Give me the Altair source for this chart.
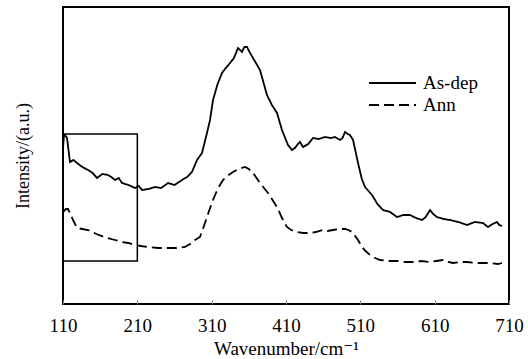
import altair as alt
import pandas as pd

# Wavenumber (cm^-1) and relative intensity
asdep_x = [110, 111.3, 112.7, 115.4, 119.4, 124, 128.8, 136, 143.6, 150, 155.7, 163, 170.5, 175, 180, 185, 189.4,
           198, 206.9, 212, 216.3, 225, 233.8, 242, 251.3, 260, 270.1, 277, 283.5, 290.3, 297, 303.7, 307.8,
           311.8, 318, 323.9, 329, 334.7, 340, 345.4, 350.8, 354, 357.5, 361, 365.6, 375, 384.4, 391, 397.9,
           404.6, 412.7, 418, 422.1, 426, 428.8, 432.9, 440, 446.3, 454, 462.5, 470, 476, 482.7, 486, 489.4,
           493, 496.1, 500.2, 506.9, 512, 516.3, 521, 525.7, 533, 540.5, 550, 559.3, 568, 576.8, 585, 593,
           598, 603.7, 608, 613.1, 622, 630.6, 642, 653.5, 664, 675, 681.7, 688, 693.9, 697, 700.6]
asdep_y = [156, 168, 169, 166, 142, 144, 141, 137, 134, 131, 126, 130, 129, 127, 124, 126, 121,
           119, 116, 118, 114, 115, 117, 116, 121, 119, 124, 127, 132, 144, 151, 171, 184,
           204, 220, 231, 236, 241, 246, 256, 252, 257, 257, 252, 246, 234, 209, 199, 191,
           174, 159, 154, 156, 160, 162, 157, 160, 166, 165, 167, 166, 167, 164, 166, 172,
           170, 169, 164, 141, 125, 117, 113, 109, 100, 94, 92, 87, 89, 89, 86, 84,
           87, 94, 90, 87, 85, 84, 82, 79, 82, 81, 77, 80, 82, 79, 78]

ann_x = [110, 114, 116.7, 120, 123.5, 128.8, 136, 143.6, 155, 169.2, 180, 189.4, 198, 206.9, 215, 224.4,
         238, 251.3, 263, 274.1, 281, 287.6, 294.3, 301, 306, 311.8, 318, 325.2, 331, 338.7, 346, 354.8,
         360, 365.6, 375, 385.8, 397.9, 404, 411.3, 417, 424.8, 433, 442.3, 450, 459.8, 466, 473.2, 481,
         489.4, 494, 498.8, 502, 506.9, 512.2, 517, 523, 530, 536.5, 548, 559.3, 570, 580.8, 592, 603.7,
         612, 621.2, 628, 634.7, 644, 653.5, 664, 675, 685, 695.2, 700.6]
ann_y = [92, 95, 95, 90, 84, 76, 75, 74, 70, 66, 64, 62, 61, 59, 58, 57,
         56, 56, 56, 57, 60, 64, 67, 81, 92, 104, 115, 124, 128, 132, 135, 137,
         135, 131, 121, 111, 97, 87, 77, 74, 72, 71, 71, 72, 74, 73, 74, 75,
         75, 74, 72, 69, 64, 57, 53, 49, 46, 44, 43, 43, 42, 42, 43, 42,
         43, 44, 42, 41, 42, 42, 41, 41, 41, 40, 41]

series_names = ["As-dep", "Ann"]
box_x = [110, 210]
box_y = [43, 170]
x_ticks = [110, 210, 310, 410, 510, 610, 710]

df = pd.concat([
    pd.DataFrame({"wn": asdep_x, "I": asdep_y, "series": series_names[0], "order": range(len(asdep_x))}),
    pd.DataFrame({"wn": ann_x, "I": ann_y, "series": series_names[1], "order": range(len(ann_x))}),
])
box = pd.DataFrame({"x1": [box_x[0]], "x2": [box_x[1]], "y1": [box_y[0]], "y2": [box_y[1]]})

FONT = "'Liberation Serif', 'Times New Roman', 'DejaVu Serif', serif"
FS = 19
DASH = [10, 5]
xscale = alt.Scale(domain=[110, 710], nice=False, zero=False)
yscale = alt.Scale(domain=[0, 297], nice=False, zero=False)

lines = alt.Chart(df).mark_line(color="black", strokeWidth=1.8).encode(
    x=alt.X("wn:Q", scale=xscale,
            axis=alt.Axis(values=x_ticks, title="Wavenumber/cm⁻¹", tickSize=0, labelPadding=12,
                          orient="bottom", domain=False, grid=False, labelFontSize=FS, titleFontSize=FS,
                          labelFont=FONT, titleFont=FONT, labelColor="black", titleColor="black",
                          titleFontWeight="normal", titlePadding=4, labelFlush=False)),
    y=alt.Y("I:Q", scale=yscale,
            axis=alt.Axis(title="Intensity/(a.u.)", labels=False, ticks=False, domain=False, grid=False,
                          titleFontSize=18, titleFont=FONT, titleColor="black", titleFontWeight="normal",
                          titlePadding=31)),
    strokeDash=alt.StrokeDash("series:N",
                              scale=alt.Scale(domain=series_names, range=[[1, 0], DASH]),
                              legend=None),
    detail="series:N",
    order="order:Q",
)

inner_ticks = alt.Chart(df).mark_line(opacity=0).encode(
    x=alt.X("wn:Q", scale=xscale,
            axis=alt.Axis(values=x_ticks, title=None, labels=False, domain=False, grid=False,
                          orient="bottom", tickSize=4, offset=-4, tickColor="#888888", tickWidth=1)),
    y=alt.Y("I:Q", scale=yscale),
    detail="series:N",
)

rect = alt.Chart(box).mark_rect(fill=None, stroke="black", strokeWidth=1.5).encode(
    x=alt.X("x1:Q", scale=xscale, axis=None), x2="x2:Q",
    y=alt.Y("y1:Q", scale=yscale), y2="y2:Q"
)

# manual legend (entries from series_names)
leg_solid = alt.Chart(pd.DataFrame({"s": [series_names[0]]})).mark_rule(color="black", strokeWidth=1.8).encode(
    x=alt.value(306), x2=alt.value(353), y=alt.value(76))
leg_dash = alt.Chart(pd.DataFrame({"s": [series_names[1]]})).mark_rule(
    color="black", strokeWidth=1.8, strokeDash=DASH).encode(
    x=alt.value(306), x2=alt.value(353), y=alt.value(98))
leg_text1 = alt.Chart(pd.DataFrame({"s": [series_names[0]]})).mark_text(
    font=FONT, fontSize=FS, align="left", baseline="middle", color="black").encode(
    x=alt.value(360), y=alt.value(76), text="s:N")
leg_text2 = alt.Chart(pd.DataFrame({"s": [series_names[1]]})).mark_text(
    font=FONT, fontSize=FS, align="left", baseline="middle", color="black").encode(
    x=alt.value(360), y=alt.value(98), text="s:N")

chart = alt.layer(lines, inner_ticks, rect, leg_solid, leg_dash, leg_text1, leg_text2).resolve_axis(
    x="independent"
).properties(
    width=446, height=297,
    padding={"left": 63, "top": 7, "right": 19, "bottom": 55},
    autosize=alt.AutoSizeParams(type="none"),
).configure(background="white").configure_view(stroke="black", strokeWidth=2)

chart.save("out.html", embed_options={"renderer": "svg", "actions": False})
